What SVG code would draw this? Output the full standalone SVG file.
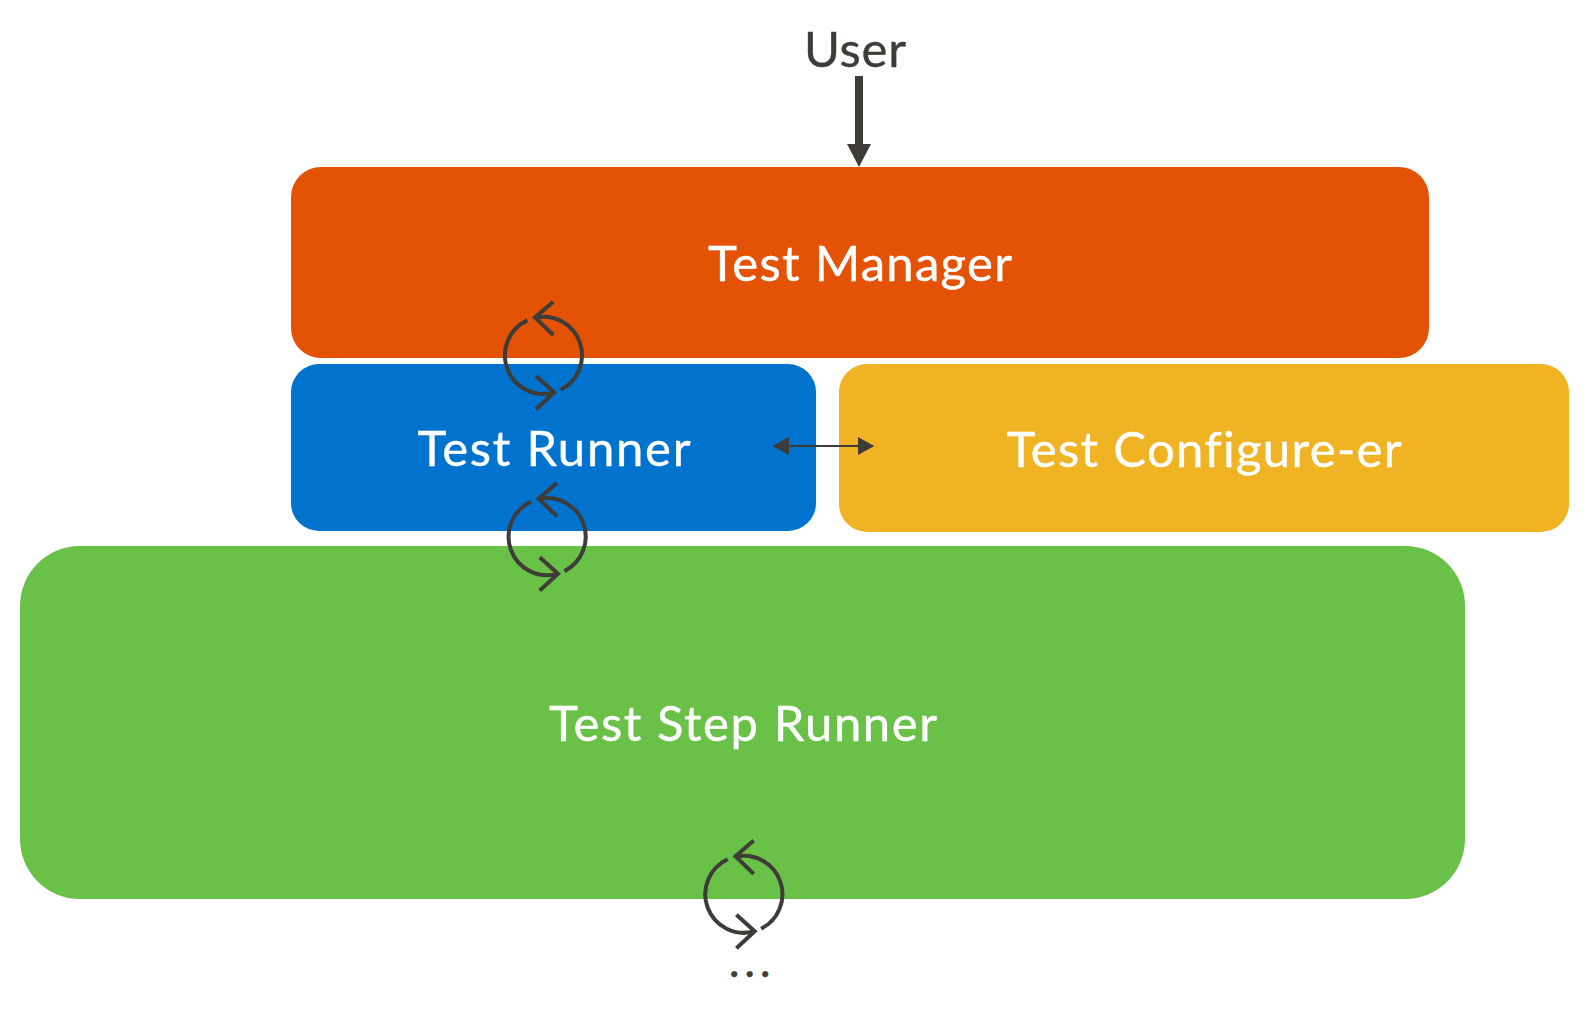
<svg xmlns="http://www.w3.org/2000/svg" width="1589" height="1011" viewBox="0 0 1589 1011">
<style>
text{font-family:Lato,"Noto Sans","Liberation Sans",sans-serif;font-size:49px;text-anchor:middle;fill:#fff;stroke:#fff;stroke-width:.4;font-variant-ligatures:none}
text.d{fill:#3f3c38;stroke:#3f3c38}
.loop{fill:none;stroke:#3f3c38;stroke-width:4}
</style>
<defs>
<g id="loop" class="loop">
<path d="M-8.300 -37.600A38.500 38.500 0 0 1 17.400 34.400"/>
<path d="M10 -53.700L-8.300 -38L10 -20.400"/>
<path d="M-16 -35A38.500 38.500 0 0 0 11 36.900"/>
<path d="M-7.300 20.500L11 37L-7.300 53.900"/>
</g>
</defs>
<rect width="1589" height="1011" fill="#fff"/>
<g id="test-manager"><rect x="291" y="167" width="1138" height="191" rx="30" fill="#e35205"/><text x="860" y="281" textLength="304" lengthAdjust="spacing">Test Manager</text></g>
<g id="test-runner"><rect x="291" y="364" width="525" height="167" rx="28" fill="#0073cf"/><text x="554" y="466" textLength="273" lengthAdjust="spacing">Test Runner</text></g>
<g id="test-configurer"><rect x="839" y="364" width="730" height="168" rx="28" fill="#f0b323"/><text x="1204" y="467" textLength="395" lengthAdjust="spacing">Test Configure-er</text></g>
<g id="test-step-runner"><rect x="20" y="546" width="1445" height="353" rx="60" fill="#69c148"/><text x="743" y="741" textLength="388" lengthAdjust="spacing">Test Step Runner</text></g>
<g id="user"><text class="d" x="855" y="67" textLength="102" lengthAdjust="spacing">User</text></g>
<g id="connectors">
<path d="M855 76h8v68h8l-12 23l-12-23h8z" fill="#3f3c38"/>
<path d="M789 445h69v-8l16.300 9l-16.300 9v-8h-69v8l-16.700-9l16.700-9z" fill="#3f3c38"/>
<use href="#loop" x="543.300" y="355.400"/>
<use href="#loop" x="547" y="536.700"/>
<use href="#loop" x="743.700" y="894.300"/>
</g>
<g id="ellipsis"><text class="d" x="752" y="976.500" style="font-size:46px;letter-spacing:4.600px">...</text></g>
</svg>
